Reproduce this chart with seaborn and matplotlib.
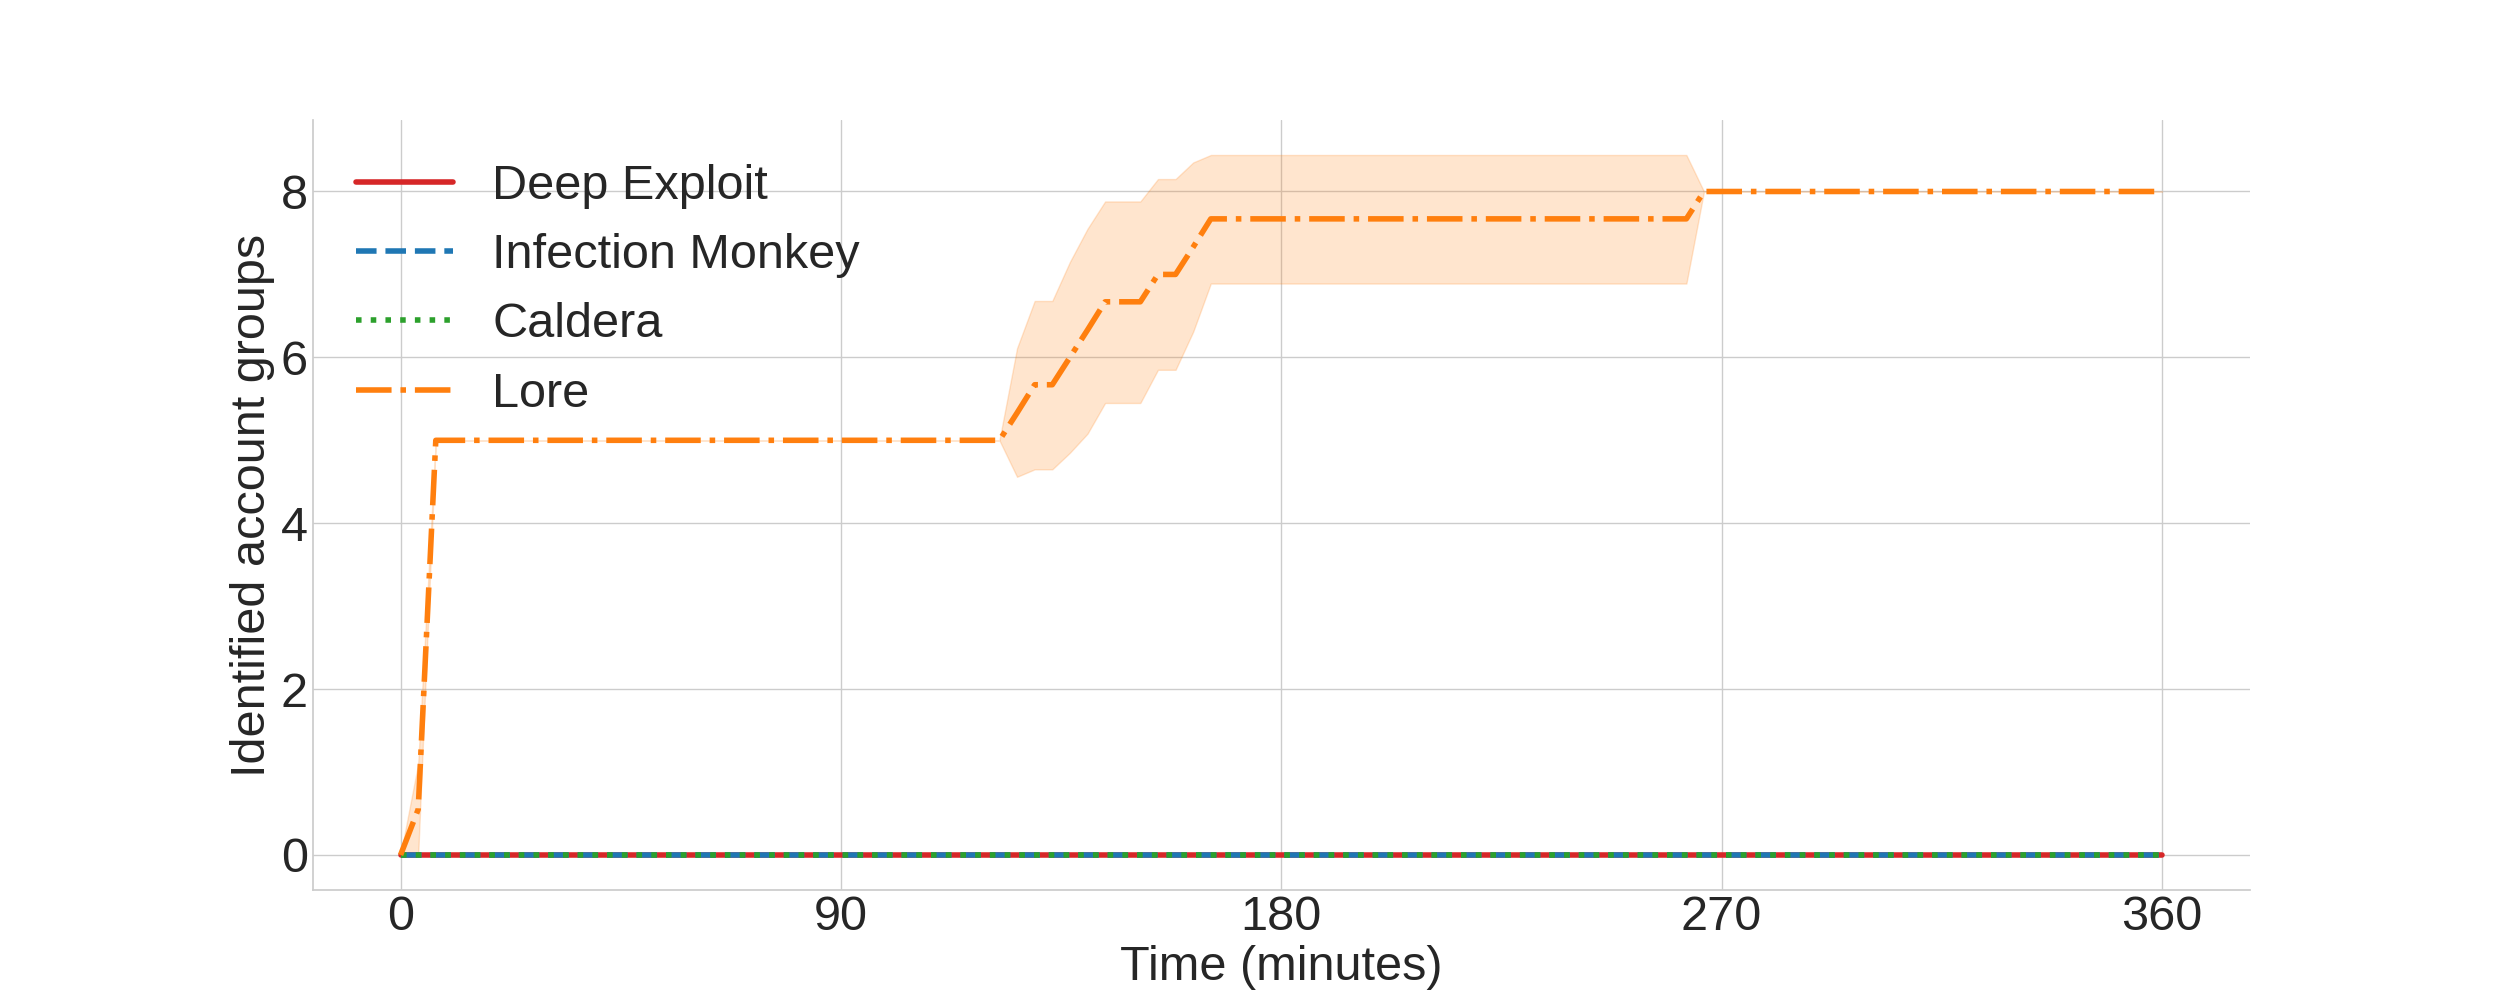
import numpy as np
import pandas as pd
import matplotlib
matplotlib.use('Agg')
import matplotlib.pyplot as plt
import seaborn as sns

# --- data ---
TOOLS = ['Deep Exploit', 'Infection Monkey', 'Caldera', 'Lore']
COLORS = {'Deep Exploit': '#d62728', 'Infection Monkey': '#1f77b4',
          'Caldera': '#2ca02c', 'Lore': '#ff7f0e'}
DASHES = {'Deep Exploit': '', 'Infection Monkey': (3.7, 1.6),
          'Caldera': (1, 1.65), 'Lore': (6.4, 1.6, 1, 1.6)}

# the three baseline tools never find anything
baseline_time = [0, 360]
baseline_value = [0, 0]

# Lore: mean over runs (breakpoints of the curve) and its confidence band
lore_time = [0, 3.6, 7.2, 122.4, 126.0, 129.6, 133.2, 136.8, 140.4, 144.0,
             151.2, 154.8, 158.4, 162.0, 165.6, 262.8, 266.4, 360]
lore_mean = [0, 0.55, 5, 5, 5.33, 5.67, 5.67, 6.0, 6.33, 6.67,
             6.67, 7.0, 7.0, 7.33, 7.67, 7.67, 8, 8]
lore_low = [0, 0, 5, 5, 4.56, 4.65, 4.65, 4.85, 5.08, 5.45,
            5.45, 5.85, 5.85, 6.31, 6.89, 6.89, 8, 8]
lore_high = [0, 1.1, 5, 5, 6.11, 6.68, 6.68, 7.15, 7.55, 7.88,
             7.88, 8.15, 8.15, 8.35, 8.44, 8.44, 8, 8]

XTICKS = [0, 90, 180, 270, 360]


def build_frame():
    rows = []
    for tool in TOOLS[:3]:
        for t, v in zip(baseline_time, baseline_value):
            rows.append({'time': t, 'value': v, 'tool': tool})
    for t, v in zip(lore_time, lore_mean):
        rows.append({'time': t, 'value': v, 'tool': 'Lore'})
    return pd.DataFrame(rows)


sns.set_theme(style='whitegrid')
plt.rcParams['font.family'] = ['Liberation Sans', 'DejaVu Sans']
for key in ['font.size', 'axes.labelsize', 'xtick.labelsize',
            'ytick.labelsize', 'legend.fontsize']:
    plt.rcParams[key] = 35
plt.rcParams['xtick.major.size'] = 0
plt.rcParams['ytick.major.size'] = 0

df = build_frame()

fig, ax = plt.subplots(figsize=(25, 10), dpi=100)

# confidence band for Lore goes underneath the lines
ax.fill_between(lore_time, lore_low, lore_high, color=COLORS['Lore'], alpha=0.2)

sns.lineplot(data=df, x='time', y='value', hue='tool', style='tool',
             hue_order=TOOLS, style_order=TOOLS, palette=COLORS,
             dashes=DASHES, linewidth=4, errorbar=None, ax=ax)

ax.set_xticks(XTICKS)
ax.set_xlabel('Time (minutes)')
ax.set_ylabel('Identified account groups')

handles, labels = ax.get_legend_handles_labels()
ax.legend(handles, labels, loc='upper left', frameon=False)
sns.despine()

fig.savefig('out.png')
